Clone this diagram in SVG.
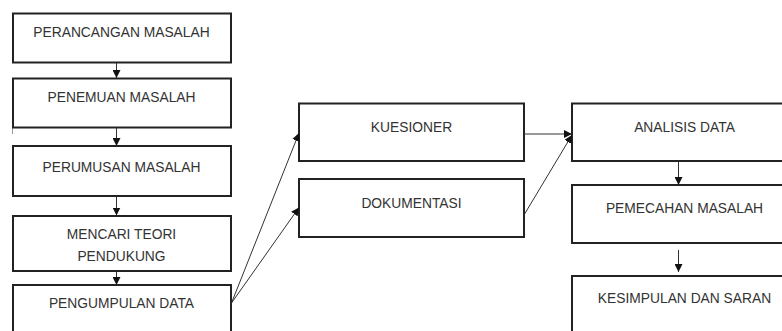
<svg xmlns="http://www.w3.org/2000/svg" width="782" height="331" viewBox="0 0 782 331">
<defs>
<marker id="ah" viewBox="0 0 8 8" refX="8" refY="4" markerWidth="8" markerHeight="8" markerUnits="userSpaceOnUse" orient="auto">
<path d="M0,0 L8,4 L0,8 z" fill="#111"/>
</marker>
<style>
.box{fill:#fff;stroke:#222;stroke-width:2}
.t{font-family:"Liberation Sans",Arial,sans-serif;font-size:13.8px;fill:#333;text-anchor:middle}
.c{fill:none;stroke:#333;stroke-width:1;marker-end:url(#ah)}
</style>
</defs>
<rect width="782" height="331" fill="#fff"/>
<line x1="12.5" y1="127" x2="12.5" y2="134" stroke="#999" stroke-width="1"/>
<g id="perancangan"><rect class="box" x="13" y="13.5" width="218" height="49"/><text class="t" x="121.5" y="37">PERANCANGAN MASALAH</text></g>
<g id="penemuan"><rect class="box" x="13" y="78.5" width="218" height="49"/><text class="t" x="121.5" y="102">PENEMUAN MASALAH</text></g>
<g id="perumusan"><rect class="box" x="13" y="146" width="218" height="50"/><text class="t" x="121.5" y="172">PERUMUSAN MASALAH</text></g>
<g id="mencari"><rect class="box" x="13" y="216" width="218" height="55"/><text class="t" x="121.5" y="239">MENCARI TEORI</text><text class="t" x="121.5" y="261">PENDUKUNG</text></g>
<g id="pengumpulan"><rect class="box" x="13" y="285" width="218" height="60"/><text class="t" x="121.5" y="308">PENGUMPULAN DATA</text></g>
<g id="kuesioner"><rect class="box" x="299" y="103.5" width="225" height="57.5"/><text class="t" x="411.5" y="131.5">KUESIONER</text></g>
<g id="dokumentasi"><rect class="box" x="299" y="179" width="225" height="58"/><text class="t" x="411.5" y="207.5">DOKUMENTASI</text></g>
<g id="analisis"><rect class="box" x="572" y="103.5" width="226" height="57.5"/><text class="t" x="684.5" y="131.5">ANALISIS DATA</text></g>
<g id="pemecahan"><rect class="box" x="572" y="185" width="226" height="58"/><text class="t" x="684.5" y="213">PEMECAHAN MASALAH</text></g>
<g id="kesimpulan"><rect class="box" x="572" y="276" width="226" height="70"/><text class="t" x="684.5" y="303">KESIMPULAN DAN SARAN</text></g>
<g id="connectors">
<line class="c" x1="116.5" y1="63" x2="116.5" y2="78"/>
<line class="c" x1="116.5" y1="128" x2="116.5" y2="146"/>
<line class="c" x1="116.5" y1="196.5" x2="116.5" y2="215.5"/>
<line class="c" x1="116.5" y1="271.5" x2="116.5" y2="285"/>
<line class="c" x1="231.5" y1="303" x2="299" y2="133"/>
<line class="c" x1="231.5" y1="303" x2="299" y2="207.5"/>
<line class="c" x1="524" y1="134" x2="572" y2="134"/>
<line class="c" x1="524" y1="215" x2="572" y2="135"/>
<line class="c" x1="678.5" y1="161.5" x2="678.5" y2="185"/>
<line class="c" x1="678.5" y1="250" x2="678.5" y2="272"/>
</g>
</svg>
